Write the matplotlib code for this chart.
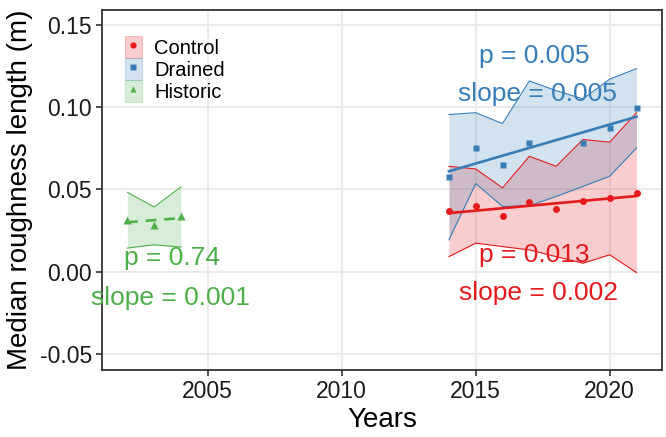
import numpy as np
import matplotlib
matplotlib.use("Agg")
import matplotlib.pyplot as plt
from matplotlib.patches import Patch
from matplotlib.lines import Line2D

plt.rcParams['font.family'] = ['Liberation Sans', 'DejaVu Sans']

## ------------------- data
years_new = [2014, 2015, 2016, 2017, 2018, 2019, 2020, 2021]
years_old = [2002, 2003, 2004]

control_med = [0.0368, 0.0396, 0.0340, 0.0423, 0.0382, 0.0427, 0.0445, 0.0480]
control_hi = [0.0640, 0.0624, 0.0509, 0.0701, 0.0640, 0.0803, 0.0787, 0.0966]
control_lo = [0.0091, 0.0173, 0.0152, 0.0132, 0.0091, 0.0051, 0.0102, -0.0006]

drained_med = [0.0576, 0.0752, 0.0646, 0.0779, np.nan, 0.0783, 0.0874, 0.0996]
drained_hi = [0.0955, 0.0966, 0.0900, 0.1159, 0.1100, 0.1050, 0.1170, 0.1234]
drained_lo = [0.0193, 0.0535, 0.0396, 0.0400, 0.0457, 0.0518, 0.0580, 0.0752]

historic_med = [0.0315, 0.0283, 0.0340]
historic_hi = [0.0482, 0.0393, 0.0515]
historic_lo = [0.0143, 0.0163, 0.0149]

stats_text = {
    'Control': ['p = 0.013', 'slope = 0.002'],
    'Drained': ['p = 0.005', 'slope = 0.005'],
    'Historic': ['p = 0.74', 'slope = 0.001'],
}

col = {'Control': '#E41A1C', 'Drained': '#377EB8', 'Historic': '#4DAF4A'}
mark = {'Control': 'o', 'Drained': 's', 'Historic': '^'}
msize = {'Control': 5, 'Drained': 5, 'Historic': 6}

## ------------------- figure
fig = plt.figure(figsize=(6.66, 4.37), dpi=100)
ax = fig.add_axes([0.153, 0.153, 0.841, 0.824])

series = [
    ('Control', years_new, control_med, control_lo, control_hi, '-'),
    ('Drained', years_new, drained_med, drained_lo, drained_hi, '-'),
    ('Historic', years_old, historic_med, historic_lo, historic_hi, '--'),
]

for name, yrs, med, lo, hi, ls in series:
    x = np.array(yrs, dtype=float)
    y = np.array(med, dtype=float)
    c = col[name]
    ax.fill_between(x, lo, hi, color=c, alpha=0.22, linewidth=0, zorder=2)
    ax.plot(x, lo, color=c, lw=0.8, zorder=3)
    ax.plot(x, hi, color=c, lw=0.8, zorder=3)
    ok = ~np.isnan(y)
    k, b = np.polyfit(x[ok], y[ok], 1)
    ax.plot(x, k * x + b, color=c, lw=1.9, ls=ls, zorder=4,
            dashes=(4, 3) if ls == '--' else (None, None))
    ax.plot(x, y, mark[name], color=c, ms=msize[name], mec='none', zorder=5)

ax.text(2017.2, 0.131, stats_text['Drained'][0], color=col['Drained'], fontsize=19, ha='center', va='center')
ax.text(2017.3, 0.108, stats_text['Drained'][1], color=col['Drained'], fontsize=19, ha='center', va='center')
ax.text(2017.2, 0.010, stats_text['Control'][0], color=col['Control'], fontsize=19, ha='center', va='center')
ax.text(2017.35, -0.013, stats_text['Control'][1], color=col['Control'], fontsize=19, ha='center', va='center')
ax.text(2003.65, 0.008, stats_text['Historic'][0], color=col['Historic'], fontsize=19, ha='center', va='center')
ax.text(2003.6, -0.016, stats_text['Historic'][1], color=col['Historic'], fontsize=19, ha='center', va='center')

ax.set_xlim(2001.05, 2021.95)
ax.set_ylim(-0.0599, 0.159)
ax.set_xticks([2005, 2010, 2015, 2020])
ax.set_yticks([-0.05, 0.0, 0.05, 0.10, 0.15])
ax.set_yticklabels(['-0.05', '0.00', '0.05', '0.10', '0.15'])
ax.grid(True, color='#ebebeb', lw=1.4, zorder=0)
ax.set_axisbelow(True)
for s in ax.spines.values():
    s.set_color('#333333')
    s.set_linewidth(1.3)
ax.tick_params(axis='both', labelsize=16.5, length=4, width=1.2, color='#333333', labelcolor='#1a1a1a', pad=3)
ax.set_xlabel('Years', fontsize=20, labelpad=3)
ax.set_ylabel('Median roughness length (m)', fontsize=20, labelpad=5)

handles = []
for name in ['Control', 'Drained', 'Historic']:
    p = Patch(facecolor=col[name], alpha=0.22, edgecolor=col[name], linewidth=0.8)
    m = Line2D([], [], marker=mark[name], color=col[name], ls='none', ms=4.5, mec='none')
    handles.append((p, m))
ax.legend(handles, ['Control', 'Drained', 'Historic'], loc='upper left',
          bbox_to_anchor=(0.023, 0.955), frameon=False, fontsize=14.5,
          handlelength=0.85, handleheight=1.3, labelspacing=0.0,
          handletextpad=0.6, borderpad=0.0)

fig.savefig('out.png', dpi=100)
